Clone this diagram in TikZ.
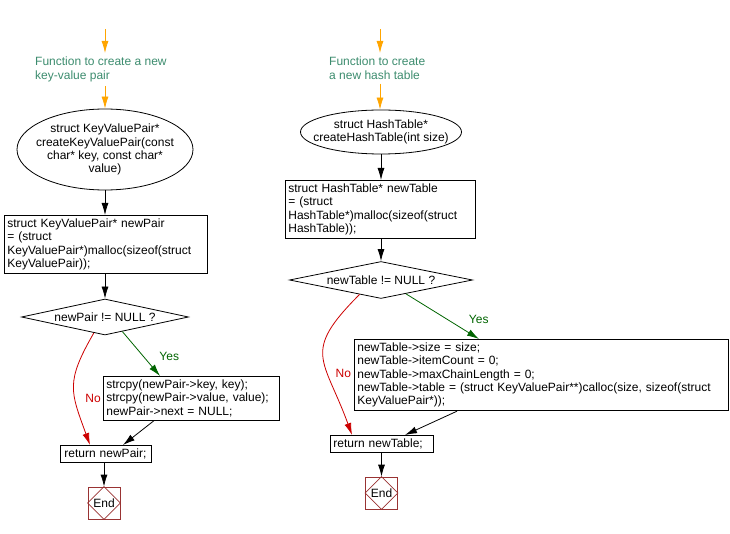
\documentclass[tikz,border=0pt]{standalone}
\usepackage{fontspec}
\setmainfont{Liberation Sans}
\usetikzlibrary{arrows.meta,shapes.geometric,positioning,calc}

\definecolor{floworange}{RGB}{255,165,0}
\definecolor{notegreen}{RGB}{60,140,110}
\definecolor{yesgreen}{RGB}{0,100,0}
\definecolor{nored}{RGB}{204,0,0}
\definecolor{endred}{RGB}{153,51,51}

% text of an oval, kept out of the shape size
\newcommand{\flowlines}[1]{\makebox[0pt]{\smash{\raisebox{-3.5pt}{\begin{tabular}{@{}c@{}}#1\end{tabular}}}}}

\tikzset{
  codebox/.style={draw, rectangle, align=left, anchor=north west, inner xsep=3pt, inner ysep=3.5pt, line width=0.8pt},
  funcbox/.style={draw, ellipse, inner sep=0pt, line width=0.8pt},
  testbox/.style={draw, diamond, inner sep=0pt, line width=0.8pt},
  endbox/.style={draw=endred, rectangle, minimum size=32pt, inner sep=0pt, line width=0.8pt},
  notetext/.style={text=notegreen, align=left, anchor=north west, inner sep=0pt},
  arr/.style={-{Latex[length=12pt,width=7pt]}, line width=0.8pt},
  inarr/.style={arr, draw=floworange},
  yesarr/.style={arr, draw=yesgreen},
  noarr/.style={arr, draw=nored},
  lbl/.style={inner sep=0pt}
}

\begin{document}
\begin{tikzpicture}[x=1pt, y=1pt, font=\fontsize{12}{13.3}\selectfont]
\useasboundingbox (0,0) rectangle (730,-534);

% key-value pair
  \coordinate (pairstart) at (105,-29);
  \node[notetext] (pairnote) at (35,-57) {Function to create a new\\key-value pair};
  \node[funcbox, minimum width=176pt, minimum height=81pt] (kv) at (105,-149.5)
    {\flowlines{struct KeyValuePair*\\createKeyValuePair(const\\char* key, const char*\\value)}};
  \node[codebox, text width=197pt] (pairalloc) at (4,-215)
    {struct KeyValuePair* newPair\\= (struct\\KeyValuePair*)malloc(sizeof(struct\\KeyValuePair));};
  \node[testbox, minimum width=167pt, minimum height=36pt] (pairtest) at (105,-317)
    {\makebox[0pt]{newPair != NULL ?}};
  \node[codebox, text width=170pt] (pairset) at (103,-376)
    {strcpy(newPair->key, key);\\strcpy(newPair->value, value);\\newPair->next = NULL;};
  \node[codebox, text width=83pt, inner xsep=4pt] (pairret) at (60,-445) {return newPair;};
  \node[endbox] (pairend) at (104,-503) {End};
  \draw[endred, line width=0.6pt] (pairend.north) -- (pairend.east) -- (pairend.south) -- (pairend.west) -- cycle;

  \draw[inarr, shorten >=4pt] (pairstart) -- (pairstart |- pairnote.north);
  \draw[inarr, shorten <=4pt] (kv |- pairnote.south) -- (kv.north);
  \draw[arr] (kv.south) -- (kv.south |- pairalloc.north);
  \draw[arr] (pairtest |- pairalloc.south) -- (pairtest.north);
  \draw[yesarr] (pairtest.-40) -- node[lbl, text=yesgreen, pos=.55, right=16pt] {Yes} ([xshift=57pt]pairset.north west);
  \draw[noarr] (pairtest.-125) to[out=240, in=110, looseness=1.3]
    node[lbl, text=nored, pos=.62, right=10pt] {No} ([xshift=30pt]pairret.north west);
  \draw[arr] ([xshift=51pt]pairset.south west) -- ([xshift=63pt]pairret.north west);
  \draw[arr] (pairend |- pairret.south) -- (pairend.north);

% hash table
  \coordinate (tablestart) at (380,-29);
  \node[notetext] (tablenote) at (329,-57) {Function to create\\a new hash table};
  \node[funcbox, minimum width=161pt, minimum height=44pt] (ht) at (381,-132)
    {\flowlines{struct HashTable*\\createHashTable(int size)}};
  \node[codebox, text width=184pt] (tablealloc) at (285,-180)
    {struct HashTable* newTable\\= (struct\\HashTable*)malloc(sizeof(struct\\HashTable));};
  \node[testbox, minimum width=183pt, minimum height=37pt] (tabletest) at (381,-280)
    {\makebox[0pt]{newTable != NULL ?}};
  \node[codebox, text width=368pt] (tableset) at (354,-339)
    {newTable->size = size;\\newTable->itemCount = 0;\\newTable->maxChainLength = 0;\\newTable->table = (struct KeyValuePair**)calloc(size, sizeof(struct\\KeyValuePair*));};
  \node[codebox, text width=97pt, inner xsep=3pt] (tableret) at (330,-435) {return newTable;};
  \node[endbox] (tableend) at (381.5,-493) {End};
  \draw[endred, line width=0.6pt] (tableend.north) -- (tableend.east) -- (tableend.south) -- (tableend.west) -- cycle;

  \draw[inarr, shorten >=4pt] (tablestart) -- (tablestart |- tablenote.north);
  \draw[inarr, shorten <=4pt] (tablestart |- tablenote.south) -- (tablestart |- ht.north);
  \draw[arr] (ht.south) -- (ht.south |- tablealloc.north);
  \draw[arr] (tabletest |- tablealloc.south) -- (tabletest.north);
  \draw[yesarr] (tabletest.-29.5) -- node[lbl, text=yesgreen, pos=.57, right=21pt] {Yes} ([xshift=125pt]tableset.north west);
  \draw[noarr] (tabletest.-146) to[out=225, in=110, looseness=1.5]
    node[lbl, text=nored, pos=.64, right=8pt] {No} ([xshift=22pt]tableret.north west);
  \draw[arr] ([xshift=103pt]tableset.south west) -- ([xshift=75pt]tableret.north west);
  \draw[arr] (tableend |- tableret.south) -- (tableend.north);
\end{tikzpicture}
\end{document}
